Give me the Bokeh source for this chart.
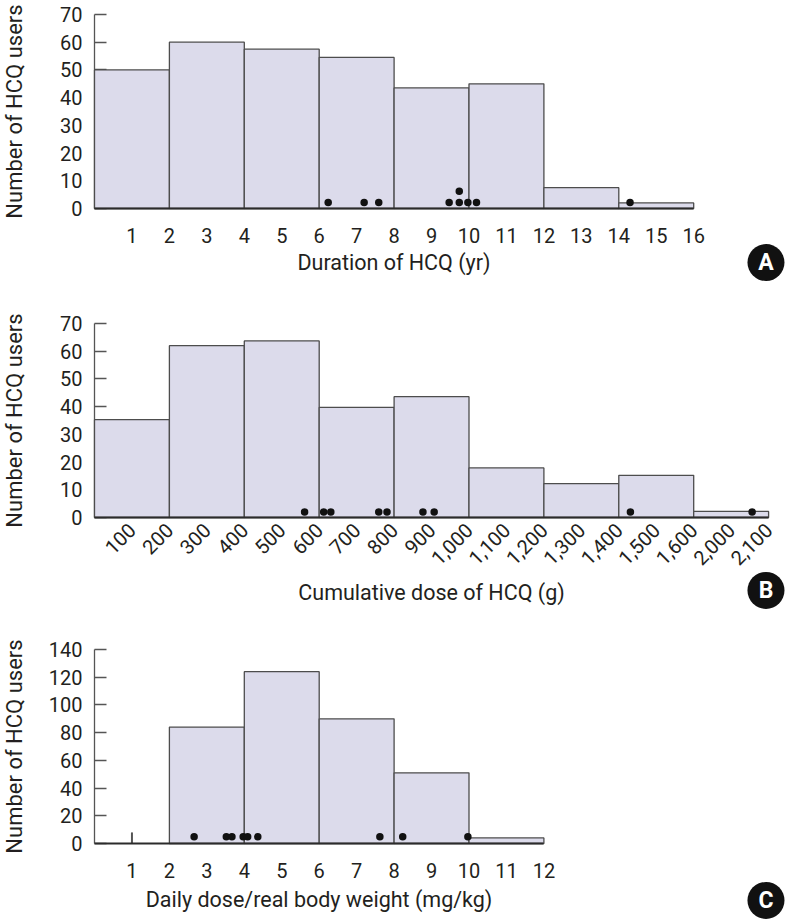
from math import pi
from bokeh.plotting import figure
from bokeh.layouts import column
from bokeh.models import Range1d, FixedTicker
from bokeh.core.properties import value
from bokeh.embed import file_html
from bokeh.resources import INLINE

FONT = "Roboto"

# ---------------- Panel A: duration of HCQ (yr) ----------------
A_edges = [0, 2, 4, 6, 8, 10, 12, 14, 16]
A_counts = [50, 60, 57.5, 54.5, 43.5, 45, 7.5, 2]
A_ticks = list(range(1, 17))
A_yticks = [0, 10, 20, 30, 40, 50, 60, 70]
A_dot_x = [6.24, 7.2, 7.59, 9.47, 9.74, 9.74, 9.97, 10.2, 14.3]
A_dot_y = [2.2, 2.2, 2.2, 2.2, 2.2, 6.2, 2.2, 2.2, 2.2]

# ---------------- Panel B: cumulative dose (g) ----------------
B_labels = ["100", "200", "300", "400", "500", "600", "700", "800", "900",
            "1,000", "1,100", "1,200", "1,300", "1,400", "1,500", "1,600",
            "2,000", "2,100"]
B_edges = [0, 2, 4, 6, 8, 10, 12, 14, 16, 18]
B_counts = [35.3, 62, 63.7, 39.7, 43.6, 17.9, 12.2, 15.2, 2.2]
B_yticks = [0, 10, 20, 30, 40, 50, 60, 70]
B_dot_x = [5.61, 6.12, 6.31, 7.59, 7.81, 8.77, 9.07, 14.31, 17.56]
B_dot_y = [2, 2, 2, 2, 2, 2, 2, 2, 2]

# ---------------- Panel C: daily dose / body weight ----------------
C_edges = [2, 4, 6, 8, 10, 12]
C_counts = [84, 124, 90, 51, 4]
C_ticks = list(range(1, 13))
C_yticks = [0, 20, 40, 60, 80, 100, 120, 140]
C_dot_x = [2.66, 3.52, 3.67, 3.97, 4.09, 4.36, 7.62, 8.23, 9.97]
C_dot_y = [4.8, 4.8, 4.8, 4.8, 4.8, 4.8, 4.8, 4.8, 4.8]
C_stub_x = [1]
C_stub_h = [8]

Y_TITLE = "Number of HCQ users"

BAR_FILL = "#dcdbeb"
BAR_LINE = "#4d4d4d"
TXT = "#231f20"

WIDTH = 790
LEFT = 94            # pixel position of x = 0
PPU_X = 37.45        # pixels per x unit
AXIS_H = 194         # pixel height of the 0..ymax span
LETTER_X = 17.93
YTITLE_X = (14 - LEFT) / PPU_X


def panel(edges, counts, xticks, xmax, ymax, yticks, xlabel, letter, letter_y,
          dot_x, dot_y, height, top_px, overrides=None,
          orient="horizontal", xstand=19, xlab_stand=6):
    ppu_y = AXIS_H / ymax
    y_top = ymax + top_px / ppu_y
    y_bot = -(height - top_px - AXIS_H) / ppu_y
    p = figure(width=WIDTH, height=height,
               x_range=Range1d(-LEFT / PPU_X, (WIDTH - LEFT) / PPU_X),
               y_range=Range1d(y_bot, y_top),
               output_backend="svg", toolbar_location=None,
               min_border_left=0, min_border_right=0,
               min_border_top=0, min_border_bottom=0,
               outline_line_color=None)
    p.xgrid.visible = False
    p.ygrid.visible = False

    xa = p.xaxis[0]
    xa.fixed_location = 0
    xa.ticker = FixedTicker(ticks=xticks)
    xa.bounds = (0, xmax)
    xa.major_tick_in = 0
    xa.major_tick_out = 0
    xa.minor_tick_line_color = None
    xa.axis_line_color = "#2b2b2b"
    xa.axis_line_width = 2
    xa.major_label_text_font = FONT
    xa.major_label_text_font_size = "20px"
    xa.major_label_text_color = TXT
    xa.major_label_standoff = xstand
    xa.major_label_orientation = orient
    if overrides:
        xa.major_label_overrides = overrides
    xa.axis_label = xlabel
    xa.axis_label_text_font = FONT
    xa.axis_label_text_font_size = "21.5px"
    xa.axis_label_text_font_style = "normal"
    xa.axis_label_text_color = TXT
    xa.axis_label_standoff = xlab_stand
    xa.level = "overlay"

    ya = p.yaxis[0]
    ya.fixed_location = 0
    ya.ticker = FixedTicker(ticks=yticks)
    ya.bounds = (0, ymax)
    ya.major_tick_in = 12
    ya.major_tick_out = 0
    ya.minor_tick_line_color = None
    ya.major_tick_line_color = "#555555"
    ya.major_tick_line_width = 1.3
    ya.axis_line_color = "#555555"
    ya.axis_line_width = 1.3
    ya.major_label_text_font = FONT
    ya.major_label_text_font_size = "20px"
    ya.major_label_text_color = TXT
    ya.major_label_standoff = 12

    # y-axis title, centred on the 0..ymax span of the axis
    p.text(x=[YTITLE_X], y=[ymax / 2], text=[Y_TITLE], angle=pi / 2,
           text_font=value(FONT), text_font_size="22px", text_color=TXT,
           text_align="center", text_baseline="middle", level="overlay")

    p.quad(left=edges[:-1], right=edges[1:], bottom=0, top=counts,
           fill_color=BAR_FILL, line_color=BAR_LINE, line_width=1.3,
           level="overlay")
    p.scatter(x=dot_x, y=dot_y, size=7.5, marker="circle",
              fill_color="#111111", line_color=None, level="overlay")

    p.scatter(x=[LETTER_X], y=[letter_y], size=37, marker="circle",
              fill_color="#111111", line_color=None, level="overlay")
    p.text(x=[LETTER_X], y=[letter_y], text=[letter],
           text_font=value(FONT), text_font_style="bold",
           text_font_size="23px", text_color="white",
           text_align="center", text_baseline="middle", level="overlay")
    return p


pA = panel(A_edges, A_counts, A_ticks, 16, 70, A_yticks,
           "Duration of HCQ (yr)", "A", -19.5, A_dot_x, A_dot_y,
           height=290, top_px=14, xlab_stand=4)

pB = panel(B_edges, B_counts, list(range(1, len(B_labels) + 1)), 18, 70,
           B_yticks, "Cumulative dose of HCQ (g)", "B", -26.3,
           B_dot_x, B_dot_y, height=325, top_px=33,
           overrides={i + 1: lbl for i, lbl in enumerate(B_labels)},
           orient=pi / 4, xstand=9, xlab_stand=5)

pC = panel(C_edges, C_counts, C_ticks, 12, 140, C_yticks,
           "Daily dose/real body weight (mg/kg)", "C", -41.1,
           C_dot_x, C_dot_y, height=306, top_px=34, xlab_stand=6)
pC.segment(x0=C_stub_x, y0=[0] * len(C_stub_x), x1=C_stub_x, y1=C_stub_h,
           line_color="#555555", line_width=2, level="overlay")

layout = column(pA, pB, pC, spacing=0)
open("out.html", "w").write(file_html(layout, INLINE))
